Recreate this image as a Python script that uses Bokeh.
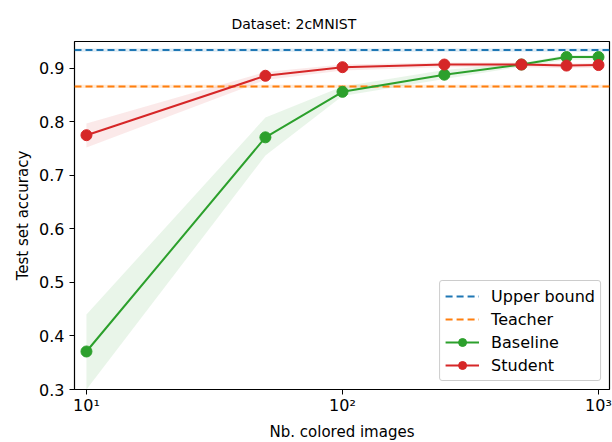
from bokeh.plotting import figure
from bokeh.models import Range1d, FixedTicker, Legend, LegendItem
from bokeh.embed import file_html
from bokeh.resources import INLINE

# ---- data ----
n_images = [10, 50, 100, 250, 500, 750, 1000]
baseline = [0.371, 0.771, 0.856, 0.888, 0.907, 0.921, 0.921]
baseline_lo = [0.300, 0.737, 0.848, 0.880, 0.903, 0.916, 0.916]
baseline_hi = [0.440, 0.808, 0.866, 0.897, 0.910, 0.925, 0.925]
student = [0.775, 0.886, 0.902, 0.907, 0.907, 0.905, 0.906]
student_lo = [0.752, 0.878, 0.896, 0.902, 0.902, 0.900, 0.901]
student_hi = [0.797, 0.893, 0.907, 0.911, 0.911, 0.909, 0.910]
upper_bound = 0.934
upper_band = 0.003
teacher = 0.866
teacher_band = 0.003
x_limits = [8.98, 1104]
y_limits = [0.3, 0.95]
x_ticks = [10, 100, 1000]
x_tick_labels = ["10¹", "10²", "10³"]
y_ticks = [0.3, 0.4, 0.5, 0.6, 0.7, 0.8, 0.9]

BLUE, ORANGE, GREEN, RED = "#1f77b4", "#ff7f0e", "#2ca02c", "#d62728"
FONT = "DejaVu Sans"

p = figure(frame_width=535, frame_height=348, x_axis_type="log",
           x_range=Range1d(*x_limits), y_range=Range1d(*y_limits),
           output_backend="svg", toolbar_location=None,
           title="Dataset: 2cMNIST",
           x_axis_label="Nb. colored images", y_axis_label="Test set accuracy",
           min_border_left=74, min_border_right=3, min_border_top=41,
           min_border_bottom=53)

p.title.align = "left"
p.title.offset = 157
p.title.text_font = FONT
p.title.text_font_size = "14px"
p.title.text_font_style = "normal"
p.title.text_color = "black"
p.title.standoff = 19

p.xgrid.visible = False
p.ygrid.visible = False
p.outline_line_color = "black"
p.outline_line_width = 1.2
p.outline_line_alpha = 1
p.background_fill_color = "white"
p.border_fill_color = "white"

for ax in (p.xaxis[0], p.yaxis[0]):
    ax.axis_label_text_font = FONT
    ax.axis_label_text_font_size = "15px"
    ax.axis_label_text_font_style = "normal"
    ax.axis_label_text_color = "black"
    ax.major_label_text_font = FONT
    ax.major_label_text_font_size = "16px"
    ax.major_label_text_color = "black"
    ax.major_tick_out = 5
    ax.major_tick_in = 0
    ax.minor_tick_out = 0
    ax.minor_tick_in = 0
    ax.axis_line_color = None
    ax.major_tick_line_width = 1
    ax.major_tick_line_color = "black"

p.xaxis.ticker = FixedTicker(ticks=x_ticks)
p.xaxis.major_label_overrides = {float(t): l for t, l in zip(x_ticks, x_tick_labels)}
p.yaxis.ticker = FixedTicker(ticks=y_ticks)
p.xaxis.major_label_standoff = 1
p.yaxis.major_label_standoff = 5
p.xaxis.axis_label_standoff = 5
p.yaxis.axis_label_standoff = 4

# bands
p.varea(x=x_limits, y1=[upper_bound - upper_band] * 2, y2=[upper_bound + upper_band] * 2,
        fill_color=BLUE, fill_alpha=0.15)
p.varea(x=x_limits, y1=[teacher - teacher_band] * 2, y2=[teacher + teacher_band] * 2,
        fill_color=ORANGE, fill_alpha=0.15)
p.varea(x=n_images, y1=baseline_lo, y2=baseline_hi, fill_color=GREEN, fill_alpha=0.1)
p.varea(x=n_images, y1=student_lo, y2=student_hi, fill_color=RED, fill_alpha=0.1)

ub = p.line(x=x_limits, y=[upper_bound] * 2, line_color=BLUE, line_width=2, line_dash="7 4")
te = p.line(x=x_limits, y=[teacher] * 2, line_color=ORANGE, line_width=2, line_dash="7 4")
bl = p.line(x=n_images, y=baseline, line_color=GREEN, line_width=2)
bs = p.scatter(x=n_images, y=baseline, size=11, fill_color=GREEN, line_color=GREEN)
sl = p.line(x=n_images, y=student, line_color=RED, line_width=2)
ss = p.scatter(x=n_images, y=student, size=11, fill_color=RED, line_color=RED)

legend = Legend(items=[
    LegendItem(label="Upper bound", renderers=[ub]),
    LegendItem(label="Teacher", renderers=[te]),
    LegendItem(label="Baseline", renderers=[bl, bs]),
    LegendItem(label="Student", renderers=[sl, ss]),
], location="bottom_right")
legend.label_text_font = FONT
legend.label_text_font_size = "16px"
legend.label_text_color = "black"
legend.border_line_color = "#cccccc"
legend.border_line_alpha = 1
legend.border_radius = 3
legend.background_fill_alpha = 0.8
legend.glyph_width = 34
legend.glyph_height = 20
legend.label_standoff = 12
legend.label_height = 20
legend.spacing = 3
legend.padding = 5
legend.margin = 8
p.add_layout(legend)

open("out.html", "w").write(file_html(p, INLINE))
